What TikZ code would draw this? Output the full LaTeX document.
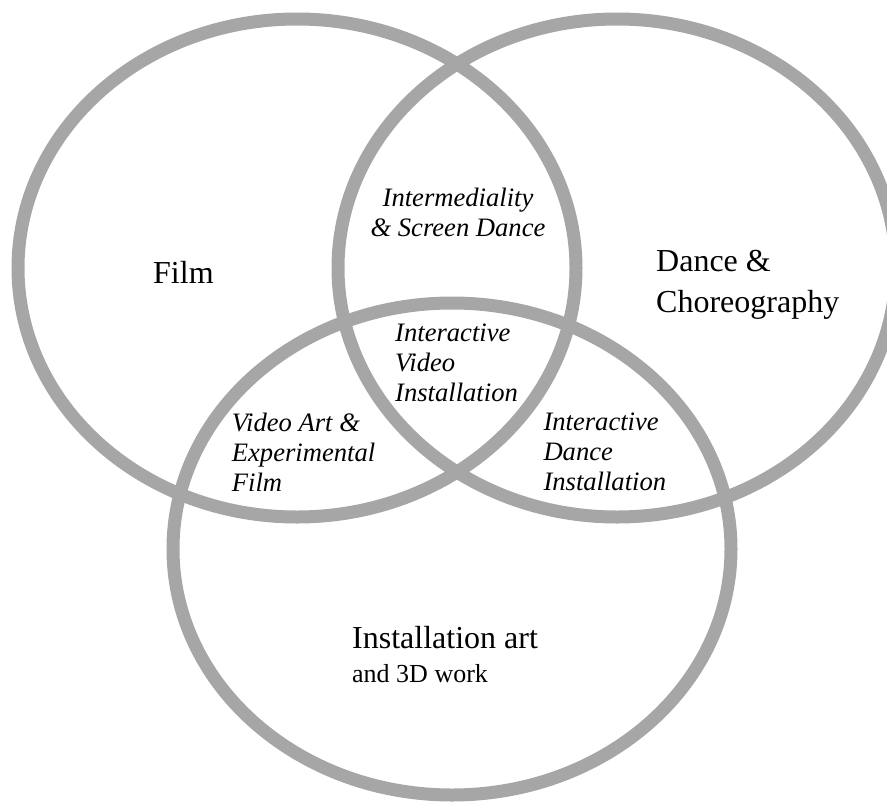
\documentclass[tikz,border=0pt]{standalone}
\usepackage{fontspec}
\setmainfont{Liberation Serif}
\definecolor{ringgray}{RGB}{166,166,166}
% stacked lines whose baseline is the baseline of the first line
\newcommand\vennleft[1]{\vtop{\halign{##\hfil\cr#1\crcr}}}
\newcommand\venncentre[1]{\vtop{\halign{\hfil##\hfil\cr#1\crcr}}}
\begin{document}
\begin{tikzpicture}[x=1pt, y=-1pt,
  ring/.style={draw=ringgray, line width=13pt},
  setlabel/.style={inner sep=0pt, anchor=base west,
    font=\fontsize{32}{41}\selectfont},
  overlap/.style={inner sep=0pt, anchor=base west,
    font=\fontsize{26.6}{30}\selectfont\itshape}]
  \useasboundingbox (0,0) rectangle (887,809);
  \begin{scope}
    \clip (0,0) rectangle (887,809);
    % the three sets
    \draw[ring] (297,268) ellipse [x radius=279pt, y radius=249pt];
    \draw[ring] (617,268) ellipse [x radius=279pt, y radius=249pt];
    \draw[ring] (452,549) ellipse [x radius=279pt, y radius=246pt];
  \end{scope}
  % set names
  \node[setlabel] (film) at (153,283) {Film};
  \node[setlabel] (dance) at (656,271) {\vennleft{Dance \&\cr Choreography}};
  \node[setlabel] (install) at (352,648)
    {\vtop{\baselineskip=34pt
      \hbox{\fontsize{32}{34}\selectfont Installation art}
      \hbox{\fontsize{26}{34}\selectfont and 3D work}}};
  % overlaps
  \node[overlap, anchor=base] (filmdance) at (458,206)
    {\venncentre{Intermediality\cr \& Screen Dance}};
  \node[overlap] (centre) at (395,341.7) {\vennleft{Interactive\cr Video\cr Installation}};
  \node[overlap] (filminst) at (231.7,431.7) {\vennleft{Video Art \&\cr Experimental\cr Film}};
  \node[overlap] (danceinst) at (543.3,430) {\vennleft{Interactive\cr Dance\cr Installation}};
\end{tikzpicture}
\end{document}
